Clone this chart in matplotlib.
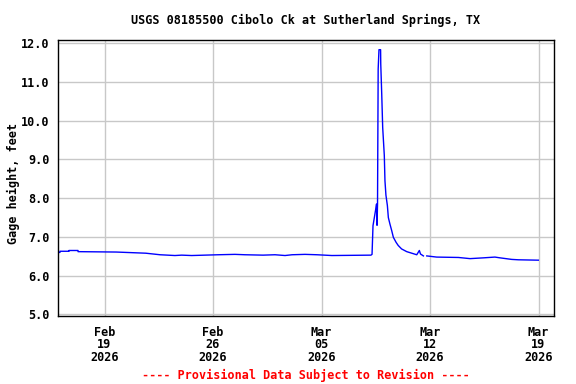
import matplotlib
matplotlib.use("Agg")
import matplotlib.pyplot as plt
import numpy as np
import pandas as pd

# gage height readings (feet)
times = [
    "2026-02-16 00:00", "2026-02-16 03:00", "2026-02-16 03:01", "2026-02-16 17:00",
    "2026-02-16 17:01", "2026-02-17 07:00", "2026-02-17 07:01", "2026-02-19 18:00",
    "2026-02-21 16:00", "2026-02-22 14:00", "2026-02-23 13:00", "2026-02-23 23:30",
    "2026-02-24 15:00", "2026-02-26 08:00", "2026-02-27 10:00", "2026-02-28 01:30",
    "2026-03-01 05:30", "2026-03-02 00:00", "2026-03-02 15:30", "2026-03-03 02:30",
    "2026-03-03 22:30", "2026-03-04 17:00", "2026-03-05 16:00", "2026-03-08 04:30",
    "2026-03-08 06:15", "2026-03-08 07:45", "2026-03-08 12:00", "2026-03-08 13:15",
    "2026-03-08 14:00", "2026-03-08 14:45", "2026-03-08 15:45", "2026-03-08 17:00",
    "2026-03-08 19:30", "2026-03-08 19:45", "2026-03-08 21:15", "2026-03-08 22:45",
    "2026-03-09 01:15", "2026-03-09 02:15", "2026-03-09 03:45", "2026-03-09 06:00",
    "2026-03-09 07:30", "2026-03-09 10:00", "2026-03-09 12:45", "2026-03-09 15:15",
    "2026-03-09 19:30", "2026-03-09 22:45", "2026-03-10 04:00", "2026-03-10 12:00",
    "2026-03-10 19:45", "2026-03-11 03:30", "2026-03-11 07:30", "2026-03-11 09:15",
    "2026-03-11 13:45", "2026-03-11 16:00", "2026-03-11 19:00", "2026-03-12 10:15",
    "2026-03-13 20:00", "2026-03-14 14:00", "2026-03-15 10:30", "2026-03-16 04:30",
    "2026-03-16 12:30", "2026-03-17 06:30", "2026-03-17 16:45", "2026-03-18 23:45",
]
gage = [
    6.60, 6.60, 6.63, 6.63,
    6.65, 6.65, 6.62, 6.61,
    6.58, 6.54, 6.52, 6.53,
    6.52, 6.54, 6.55, 6.54,
    6.53, 6.54, 6.52, 6.54,
    6.55, 6.54, 6.52, 6.53,
    6.55, 7.29, 7.72, 7.85,
    7.30, 7.85, 11.33, 11.83,
    11.83, 11.46, 10.69, 9.82,
    9.10, 8.45, 8.08, 7.81,
    7.50, 7.33, 7.16, 6.99,
    6.86, 6.78, 6.69, 6.62,
    6.58, 6.54, 6.65, 6.56,
    6.51, np.nan, 6.51, 6.48,
    6.47, 6.44, 6.46, 6.48,
    6.46, 6.42, 6.41, 6.40,
]
tick_days = ["2026-02-19", "2026-02-26", "2026-03-05", "2026-03-12", "2026-03-19"]

t = pd.to_datetime(times)
ticks = pd.to_datetime(tick_days)

mono = "DejaVu Sans Mono"

fig = plt.figure(figsize=(5.76, 3.84), dpi=100)
ax = fig.add_axes([58 / 576, 1 - 316 / 384, 496 / 576, 276 / 384])

ax.plot(t, gage, color="#0000ff", lw=1.0)

ax.set_xlim(pd.Timestamp("2026-02-16"), pd.Timestamp("2026-03-20"))
ax.set_ylim(4.96, 12.08)
ax.set_yticks(np.arange(5, 12.5, 1.0))
ax.set_yticklabels([f"{v:.1f}" for v in np.arange(5, 12.5, 1.0)],
                   fontfamily=mono, fontweight="bold", fontsize=8.5)
ax.set_xticks(ticks)
ax.set_xticklabels([d.strftime("%b\n%d\n%Y") for d in ticks],
                   fontfamily=mono, fontweight="bold", fontsize=8.5,
                   linespacing=0.95)
ax.tick_params(length=0, pad=7)
ax.tick_params(axis="y", pad=6)
ax.grid(True, color="#c8c8c8", lw=1.0)
ax.set_axisbelow(True)
for s in ax.spines.values():
    s.set_linewidth(1.0)

fig.text(13 / 576, 1 - 183 / 384, "Gage height, feet", rotation=90,
         ha="center", va="center", fontfamily=mono, fontweight="bold", fontsize=8.5)
fig.text(306 / 576, 1 - 20 / 384, "USGS 08185500 Cibolo Ck at Sutherland Springs, TX",
         ha="center", va="center", fontfamily=mono, fontweight="bold", fontsize=8.5)
fig.text(306 / 576, 1 - 375 / 384, "---- Provisional Data Subject to Revision ----",
         ha="center", va="center", color="red", fontfamily=mono,
         fontweight="bold", fontsize=8.5)

fig.savefig("out.png", dpi=100)
